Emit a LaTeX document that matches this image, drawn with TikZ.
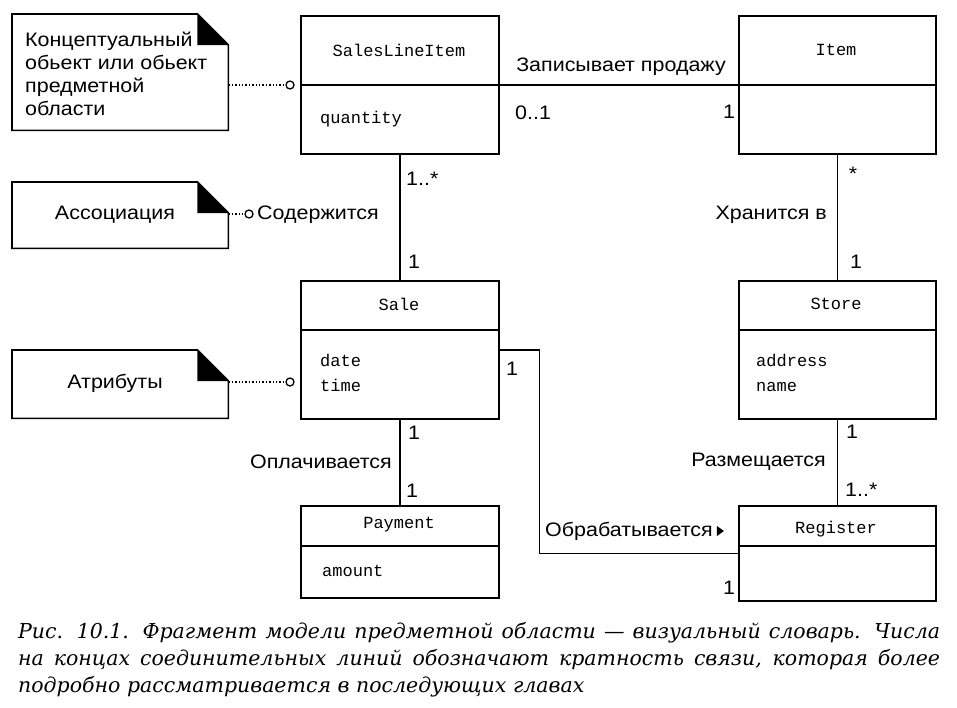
\documentclass[tikz,border=0pt]{standalone}
\usepackage{fontspec}
\setmainfont[FakeStretch=1.1]{Liberation Sans}
\newfontfamily\clsfont{Liberation Mono}
\newfontfamily\capfont{DejaVu Serif}
\begin{document}
\begin{tikzpicture}[x=1pt,y=-1pt,
  box/.style={draw, line width=1.6pt, anchor=north west, inner sep=0pt},
  lbl/.style={font=\fontsize{19.5}{23}\selectfont, inner sep=0pt},
  cname/.style={font=\clsfont\fontsize{17}{20}\selectfont, inner sep=0pt},
  attr/.style={font=\clsfont\fontsize{17}{25}\selectfont, inner sep=0pt, anchor=west, align=left},
  conn/.style={line width=1.6pt},
  sep/.style={line width=1.4pt},
  notedot/.style={dotted, line width=1.4pt},
  pin/.style={circle, draw, line width=1.3pt, fill=white, minimum size=8pt, inner sep=0pt},
  notebox/.style={anchor=north west, inner sep=0pt},
  outline/.style={line width=1.6pt},
  capline/.style={font=\capfont\itshape\fontsize{20.5}{27}\selectfont, inner sep=0pt, anchor=west},
]
\useasboundingbox (0,0) rectangle (957,707);

% ---------- class boxes ----------
\node[box, minimum width=198pt, minimum height=138pt] (sli) at (300,15) {};
\draw[sep] ([yshift=-70pt]sli.north west) -- ([yshift=-70pt]sli.north east);
\node[cname] (slin) at (399,50) {SalesLineItem};
\node[attr] (slia) at (320,119) {quantity};

\node[box, minimum width=197pt, minimum height=138pt] (item) at (738,15) {};
\draw[sep] ([yshift=-70pt]item.north west) -- ([yshift=-70pt]item.north east);
\node[cname] (itemn) at (836,50) {Item};

\node[box, minimum width=198pt, minimum height=138pt] (sale) at (300,280) {};
\draw[sep] ([yshift=-50pt]sale.north west) -- ([yshift=-50pt]sale.north east);
\node[cname] (salen) at (399,304) {Sale};
\node[attr] (salea) at (320,373) {date\\time};

\node[box, minimum width=197pt, minimum height=138pt] (store) at (738,280) {};
\draw[sep] ([yshift=-50pt]store.north west) -- ([yshift=-50pt]store.north east);
\node[cname] (storen) at (836,304) {Store};
\node[attr] (storea) at (756,373) {address\\name};

\node[box, minimum width=198pt, minimum height=92pt] (pay) at (300,505) {};
\draw[sep] ([yshift=-41pt]pay.north west) -- ([yshift=-41pt]pay.north east);
\node[cname] (payn) at (399,525) {Payment};
\node[attr] (paya) at (322,571) {amount};

\node[box, minimum width=197pt, minimum height=95pt] (reg) at (738,505) {};
\draw[sep] ([yshift=-41pt]reg.north west) -- ([yshift=-41pt]reg.north east);
\node[cname] (regn) at (836,529) {Register};

% ---------- notes ----------
\node[notebox, minimum width=216pt, minimum height=116pt] (n1) at (12,14) {};
\draw[outline] (n1.north west) -- ([xshift=-31pt]n1.north east) -- ([yshift=-31pt]n1.north east) -- (n1.south east) -- (n1.south west) -- cycle;
\fill ([xshift=-31pt]n1.north east) -- ([yshift=-31pt]n1.north east) -- ([xshift=-31pt,yshift=-31pt]n1.north east) -- cycle;
\node[lbl, anchor=west, align=left] (n1t) at (25,74) {Концептуальный\\обьект или обьект\\предметной\\области};

\node[notebox, minimum width=216pt, minimum height=66pt] (n2) at (12,182) {};
\draw[outline] (n2.north west) -- ([xshift=-31pt]n2.north east) -- ([yshift=-31pt]n2.north east) -- (n2.south east) -- (n2.south west) -- cycle;
\fill ([xshift=-31pt]n2.north east) -- ([yshift=-31pt]n2.north east) -- ([xshift=-31pt,yshift=-31pt]n2.north east) -- cycle;
\node[lbl] (n2t) at (115,215) {Ассоциация};

\node[notebox, minimum width=216pt, minimum height=68pt] (n3) at (12,350) {};
\draw[outline] (n3.north west) -- ([xshift=-31pt]n3.north east) -- ([yshift=-31pt]n3.north east) -- (n3.south east) -- (n3.south west) -- cycle;
\fill ([xshift=-31pt]n3.north east) -- ([yshift=-31pt]n3.north east) -- ([xshift=-31pt,yshift=-31pt]n3.north east) -- cycle;
\node[lbl] (n3t) at (115,383) {Атрибуты};

% note attachments
\node[pin] (p1) at (290,85) {};
\draw[notedot] (n1.east |- p1) -- (p1.west);
\node[pin] (p2) at (249,214) {};
\draw[notedot] (n2.east |- p2) -- (p2.west);
\node[pin] (p3) at (290,382) {};
\draw[notedot] (n3.east |- p3) -- (p3.west);

% ---------- associations ----------
\draw[conn] (sli.east) -- (item.west);
\node[lbl] (l1) at (621,67) {Записывает продажу};
\node[lbl, anchor=west] (l1a) at (515,113) {0..1};
\node[lbl] (l1b) at (729,112) {1};

\draw[conn] (sli.south) -- (sale.north);
\node[lbl, anchor=west] (l2a) at (406,179) {1..*};
\node[lbl] (l2b) at (414,262) {1};
\node[lbl, anchor=west] (l2) at (257,215) {Содержится};

\draw[conn] (item.south) -- (store.north);
\node[lbl] (l3a) at (853,174) {*};
\node[lbl, anchor=east] (l3) at (827,215) {Хранится в};
\node[lbl] (l3b) at (856,262) {1};

\draw[line width=2.6pt] (sale.south) -- (pay.north);
\node[lbl] (l4a) at (414,433) {1};
\node[lbl, anchor=east] (l4) at (392,462) {Оплачивается};
\node[lbl] (l4b) at (412,491) {1};

\draw[conn] (store.south) -- (reg.north);
\node[lbl] (l5a) at (852,432) {1};
\node[lbl, anchor=east] (l5) at (826,462) {Размещается};
\node[lbl, anchor=west] (l5b) at (845,490) {1..*};

\draw[conn] (sale.east) -- ++(40,0) |- (reg.west);
\node[lbl] (l6a) at (512,369) {1};
\node[lbl, anchor=west] (l6) at (545,531) {Обрабатывается};
\fill ([xshift=4pt,yshift=5pt]l6.east) -- ++(7pt,-5pt) -- ++(-7pt,-5pt) -- cycle;
\node[lbl] (l6b) at (729,588) {1};

% ---------- caption ----------
\node[capline] (c1) at (18,633) {\makebox[922pt][s]{Рис. 10.1. Фрагмент модели предметной области — визуальный словарь. Числа}};
\node[capline] (c2) at (18,660) {\makebox[922pt][s]{на концах соединительных линий обозначают кратность связи, которая более}};
\node[capline] (c3) at (18,687) {подробно рассматривается в последующих главах};
\end{tikzpicture}
\end{document}
